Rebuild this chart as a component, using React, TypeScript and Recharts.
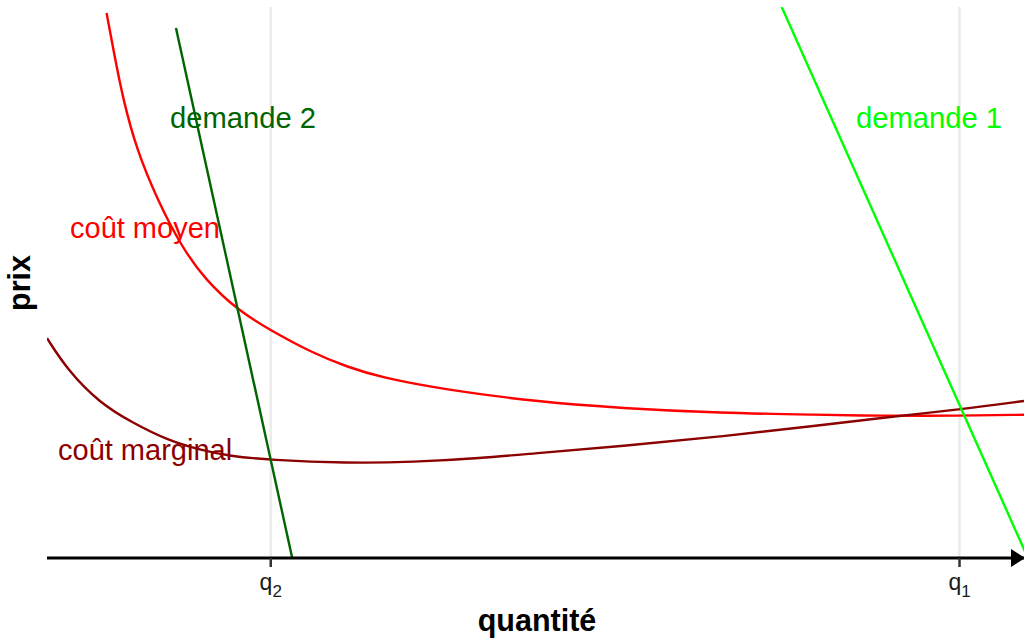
import { LineChart, Line, XAxis, YAxis, CartesianGrid, Customized } from 'recharts';

// quantités (axe x, 0..100) et prix (axe y, 0..100)
const coutMoyenQ = [6.1, 6.8, 7.8, 9.2, 11.3, 13.8, 16.2, 19.5, 22.8, 27.2, 30.7, 34.1, 40.9, 50.5, 58.7, 68.9, 79.1, 85.3, 93.4, 100];
const coutMoyenP = [98.9, 92.2, 83.1, 74.0, 65.0, 56.4, 50.5, 45.0, 41.4, 37.2, 34.7, 32.8, 30.5, 28.3, 27.2, 26.3, 26.0, 25.8, 25.8, 26.0];

const coutMargQ = [0, 2.1, 5.4, 8.8, 12.3, 15.7, 18.7, 22.8, 30.7, 37.5, 44.3, 50.5, 58.7, 68.9, 79.1, 85.3, 93.6, 100];
const coutMargP = [39.9, 34.1, 28.1, 24.5, 21.4, 19.6, 18.5, 17.8, 17.2, 17.4, 18.1, 19.1, 20.3, 22.0, 24.1, 25.4, 27.0, 28.5];

const demande1Q = [75.2, 100.4];
const demande1P = [100, 0];

const demande2Q = [13.2, 25.1];
const demande2P = [96.2, 0];

const xDomain = [0, 100];
const tickValues = [22.9, 93.4];
const tickSubs = ['2', '1'];

const zip = (q: number[], p: number[]) => q.map((v, i) => ({ q: v, p: p[i] }));

const coutMoyen = zip(coutMoyenQ, coutMoyenP);
const coutMarginal = zip(coutMargQ, coutMargP);
const demande1 = zip(demande1Q, demande1P);
const demande2 = zip(demande2Q, demande2P);

const FONT = '"Liberation Sans", Arial, Helvetica, sans-serif';

function QTick(props: any) {
  const { x, y, payload } = props;
  const i = tickValues.indexOf(payload.value);
  return (
    <text x={x} y={y + 21} textAnchor="middle" fontFamily={FONT} fontSize={23} fill="#1a1a1a">
      q<tspan fontSize={17} dy={7}>{tickSubs[i]}</tspan>
    </text>
  );
}

function Overlay() {
  return (
    <g fontFamily={FONT}>
      <defs>
        <marker id="arrow" viewBox="0 0 14 18" refX="13" refY="9" markerWidth="14" markerHeight="18" markerUnits="userSpaceOnUse" orient="auto">
          <path d="M0,0 L14,9 L0,18 z" fill="#000" />
        </marker>
      </defs>
      <text x={170} y={128} fontSize={29.2} fill="#006400">demande 2</text>
      <text x={856} y={128} fontSize={29.2} fill="#00FF00">demande 1</text>
      <text x={70} y={238} fontSize={29} fill="#FF0000">coût moyen</text>
      <text x={58} y={460} fontSize={29} fill="#8B0000">coût marginal</text>
      <text x={537} y={631} fontSize={30.5} fontWeight="bold" textAnchor="middle" fill="#000">quantité</text>
      <text x={30} y={283} fontSize={30.5} fontWeight="bold" textAnchor="middle" fill="#000" transform="rotate(-90, 30, 283)">prix</text>
    </g>
  );
}

// vertical grid only at the q ticks, placed in the plot area from the x domain
const gridX = (args: any) => {
  const off = (args && args.offset) || { left: 47, width: 977 };
  return tickValues.map((t) => off.left + (off.width * (t - xDomain[0])) / (xDomain[1] - xDomain[0]));
};

export default function App() {
  return (
    <div style={{ position: 'absolute', left: 0, top: 0, background: '#fff' }}>
      <LineChart width={1024} height={641} margin={{ top: 7, right: 0, bottom: 0, left: 47 }}>
        <CartesianGrid horizontal={false} stroke="#ebebeb" strokeWidth={2.5} verticalCoordinatesGenerator={gridX} />
        <XAxis
          type="number"
          dataKey="q"
          domain={xDomain}
          allowDataOverflow
          ticks={tickValues}
          tick={<QTick />}
          height={83}
          tickSize={9}
          tickLine={{ stroke: '#333', strokeWidth: 2.5 }}
          axisLine={{ stroke: '#000', strokeWidth: 3.2, markerEnd: 'url(#arrow)' }}
        />
        <YAxis type="number" dataKey="p" domain={[0, 100]} allowDataOverflow hide width={0} />
        <Line data={coutMoyen} dataKey="p" type="basis" stroke="#FF0000" strokeWidth={2.4} dot={false} isAnimationActive={false} />
        <Line data={coutMarginal} dataKey="p" type="basis" stroke="#8B0000" strokeWidth={2.4} dot={false} isAnimationActive={false} />
        <Line data={demande1} dataKey="p" type="linear" stroke="#00FF00" strokeWidth={2.4} dot={false} isAnimationActive={false} />
        <Line data={demande2} dataKey="p" type="linear" stroke="#006400" strokeWidth={2.4} dot={false} isAnimationActive={false} />
        <Customized component={<Overlay />} />
      </LineChart>
    </div>
  );
}
